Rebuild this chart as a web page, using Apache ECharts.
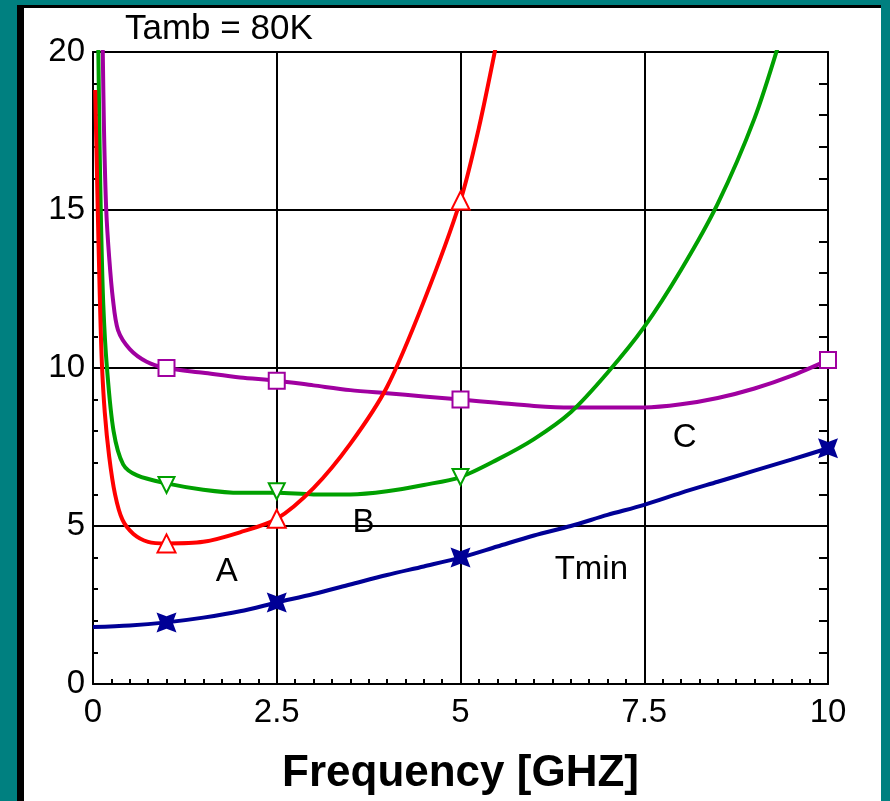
<!DOCTYPE html>
<html>
<head>
<meta charset="utf-8">
<title>Tamb = 80K</title>
<script src="https://cdn.jsdelivr.net/npm/echarts@6/dist/echarts.min.js"></script>
<style>
  html, body { margin: 0; padding: 0; background: #008080; }
  #frameDark { position: absolute; left: 17px; top: 5px; width: 864px; height: 796px; background: #000; }
  #frameLight { position: absolute; left: 24px; top: 8px; width: 857px; height: 793px; background: #fff; }
  #chart { position: absolute; left: 0; top: 0; width: 890px; height: 801px; }
</style>
</head>
<body>
<div id="frameDark"></div>
<div id="frameLight"></div>
<div id="chart"></div>
<script>
// curve values, [frequency GHz, noise temperature]
const curveA = [
  [0.03, 18.8], [0.06, 15.5], [0.09, 12.5], [0.12, 10.2], [0.16, 8.6], [0.22, 7.2],
  [0.3, 6.0], [0.4, 5.2], [0.55, 4.75], [0.75, 4.5], [1, 4.45], [1.5, 4.5], [2, 4.8],
  [2.5, 5.23], [3, 6.2], [3.5, 7.6], [4, 9.4], [4.5, 12.1], [5, 15.3], [5.25, 17.6], [5.5, 20.4]
]
const curveB = [
  [0.07, 20.5], [0.09, 17], [0.11, 14.5], [0.14, 12], [0.19, 10], [0.28, 8.0], [0.41, 6.95],
  [0.6, 6.6], [1, 6.35], [1.5, 6.15], [2, 6.05], [2.5, 6.05], [3, 6.0], [3.5, 6.0], [4, 6.1],
  [4.5, 6.3], [5, 6.55], [5.5, 7.1], [6, 7.75], [6.5, 8.6], [7, 9.85], [7.5, 11.3], [8, 13.1],
  [8.5, 15.2], [9, 17.9], [9.35, 20.4]
]
const curveC = [
  [0.13, 20.5], [0.15, 17.5], [0.18, 15], [0.22, 13.5], [0.27, 12.2], [0.34, 11.2], [0.5, 10.6],
  [0.73, 10.2], [1, 10.0], [1.5, 9.85], [2, 9.7], [2.5, 9.6], [3, 9.45], [3.5, 9.3], [4, 9.2],
  [4.5, 9.1], [5, 9.0], [5.5, 8.9], [6, 8.8], [6.5, 8.75], [7, 8.75], [7.5, 8.75], [8, 8.85],
  [8.5, 9.05], [9, 9.35], [9.5, 9.75], [10, 10.25]
]
const curveTmin = [
  [0, 1.8], [0.5, 1.85], [1, 1.95], [1.5, 2.1], [2, 2.3], [2.5, 2.58], [3, 2.85], [3.5, 3.15],
  [4, 3.45], [4.5, 3.72], [5, 4.0], [5.5, 4.35], [6, 4.7], [6.5, 5.0], [7, 5.35], [7.5, 5.67],
  [8, 6.05], [8.5, 6.4], [9, 6.75], [9.5, 7.1], [10, 7.46]
]

// marked points on each curve
const markA = [[1, 4.45], [2.5, 5.23], [5, 15.3]]
const markB = [[1, 6.3], [2.5, 6.1], [5, 6.55]]
const markC = [[1, 10.0], [2.5, 9.6], [5, 9.0], [10, 10.25]]
const markTmin = [[1, 1.95], [2.5, 2.58], [5, 4.0], [10, 7.46]]

// curve names written inside the plot
const noteNames = ['A', 'B', 'C', 'Tmin']
const notePos = [[1.82, 3.55], [3.68, 5.1], [8.05, 7.8], [6.78, 3.6]]

const xTicks = [0, 2.5, 5, 7.5, 10]
const yTicks = [0, 5, 10, 15, 20]

const RED = '#ff0000'
const GREEN = '#00a000'
const PURPLE = '#a000a0'
const NAVY = '#000096'
const FONT = 'Liberation Sans, Arial, sans-serif'

const chart = echarts.init(document.getElementById('chart'))

const black2 = { color: '#000', width: 2 }
const xMin = xTicks[0]
const xMax = xTicks[xTicks.length - 1]
const yMin = yTicks[0]
const yMax = yTicks[yTicks.length - 1]

const lineSeries = (data, color) => ({
  type: 'line',
  data,
  smooth: 0.3,
  showSymbol: false,
  clip: true,
  lineStyle: { color, width: 4 },
  itemStyle: { color },
  z: 3,
})

const markSeries = (data, color, symbol, extra) => Object.assign({
  type: 'scatter',
  data,
  symbol,
  symbolSize: 16,
  itemStyle: { color, borderColor: color, borderWidth: 4, opacity: 1 },
  z: 4,
}, extra || {})

// axis that only draws small inward ticks
const tickAxis = (position, min, max, interval, length) => ({
  type: 'value',
  position,
  min,
  max,
  interval,
  axisLine: { show: false, onZero: false },
  axisTick: { show: true, inside: true, length, lineStyle: black2 },
  axisLabel: { show: false },
  splitLine: { show: false },
})

const option = {
  backgroundColor: 'transparent',
  animation: false,
  title: {
    text: 'Tamb = 80K',
    left: 120,
    top: 7,
    textStyle: { fontFamily: FONT, fontSize: 35, fontWeight: 'normal', color: '#000' },
  },
  grid: { left: 93, right: 62, top: 52, bottom: 114 },
  xAxis: [
    {
      type: 'value',
      position: 'bottom',
      min: xMin,
      max: xMax,
      interval: 2.5,
      axisLine: { onZero: false, lineStyle: black2 },
      axisTick: { show: false },
      splitLine: { show: true, lineStyle: black2 },
      axisLabel: { fontFamily: FONT, fontSize: 33, color: '#000', margin: 12 },
      name: 'Frequency [GHZ]',
      nameLocation: 'middle',
      nameGap: 68,
      nameTextStyle: { fontFamily: FONT, fontSize: 44, fontWeight: 'bold', color: '#000' },
      z: 2,
    },
    {
      type: 'value',
      position: 'top',
      min: xMin,
      max: xMax,
      axisLine: { onZero: false, lineStyle: black2 },
      axisTick: { show: false },
      axisLabel: { show: false },
      splitLine: { show: false },
    },
    tickAxis('bottom', xMin, xMax, 0.25, 5),
  ],
  yAxis: [
    {
      type: 'value',
      position: 'left',
      min: yMin,
      max: yMax,
      interval: 5,
      axisLine: { show: true, onZero: false, lineStyle: black2 },
      axisTick: { show: false },
      splitLine: { show: true, lineStyle: black2 },
      axisLabel: { fontFamily: FONT, fontSize: 33, color: '#000', margin: 8 },
      z: 2,
    },
    {
      type: 'value',
      position: 'right',
      min: yMin,
      max: yMax,
      interval: 1,
      axisLine: { show: true, onZero: false, lineStyle: black2 },
      axisTick: { show: true, inside: true, length: 9, lineStyle: black2 },
      splitLine: { show: false },
      axisLabel: { show: false },
    },
    tickAxis('left', yMin, yMax, 1, 5),
  ],
  series: [
    lineSeries(curveC, PURPLE),
    lineSeries(curveB, GREEN),
    lineSeries(curveA, RED),
    lineSeries(curveTmin, NAVY),
    markSeries(markC, PURPLE, 'emptyRect'),
    markSeries(markB, GREEN, 'emptyTriangle', { symbolRotate: 180 }),
    markSeries(markA, RED, 'emptyTriangle', { symbolSize: 18 }),
    markSeries(markTmin, NAVY, 'path://M0,0 L8,3 L16,0 L13,8 L16,16 L8,13 L0,16 L3,8 Z', {
      symbolSize: 20,
      itemStyle: { color: NAVY, borderWidth: 0, opacity: 1 },
    }),
    {
      type: 'scatter',
      data: noteNames.map((n, i) => ({ name: n, value: notePos[i] })),
      symbolSize: 0,
      silent: true,
      itemStyle: { opacity: 1 },
      label: {
        show: true,
        position: 'inside',
        formatter: '{b}',
        fontFamily: FONT,
        fontSize: 33,
        color: '#000',
        opacity: 1,
      },
      z: 5,
    },
  ],
}

chart.setOption(option)
</script>
</body>
</html>
